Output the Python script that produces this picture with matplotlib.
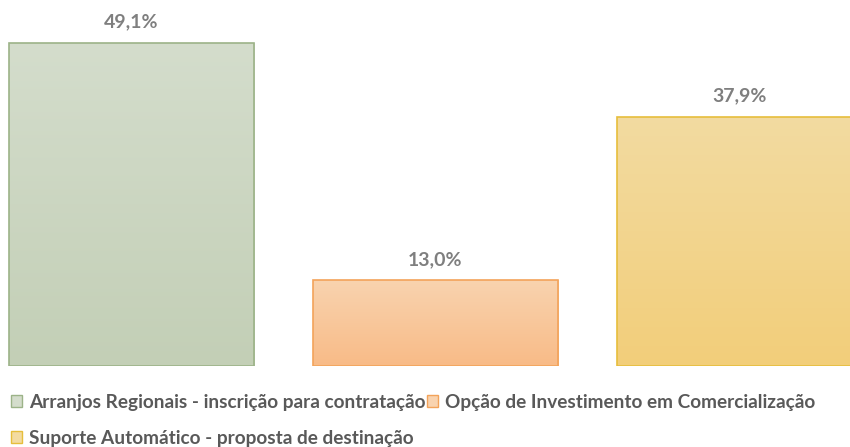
import matplotlib.pyplot as plt
import numpy as np
from matplotlib.colors import LinearSegmentedColormap
from matplotlib.patches import Patch

plt.rcParams['font.family'] = ['Lato', 'DejaVu Sans']

# data
categories = ["Arranjos Regionais - inscrição para contratação",
              "Opção de Investimento em Comercialização",
              "Suporte Automático - proposta de destinação"]
values = [49.1, 13.0, 37.9]
labels = ["49,1%", "13,0%", "37,9%"]

# top / bottom gradient colours and edge colours
tops = ["#D4DDCC", "#F9D3AF", "#F3DBA1"]
bottoms = ["#C3CFB6", "#F8BB87", "#F2CE7A"]
edges = ["#9CB388", "#F3A35A", "#E6BE3C"]

fig = plt.figure(figsize=(8.5, 4.47), dpi=100)
# axes placed so the baseline sits at 366 px from top and the third bar runs off the edge
ax = fig.add_axes([0, 81 / 447, 1, 366 / 447])
ax.axis('off')

x = np.arange(len(values))
bars = ax.bar(x, values, width=0.806, color='none', edgecolor=edges, linewidth=1.2, zorder=3)

for b, top, bot in zip(bars, tops, bottoms):
    cmap = LinearSegmentedColormap.from_list('g', [bot, top])
    grad = np.linspace(0, 1, 256).reshape(-1, 1)
    x0, y0 = b.get_x(), b.get_y()
    im = ax.imshow(grad, cmap=cmap, origin='lower', aspect='auto',
                   extent=(x0, x0 + b.get_width(), y0, y0 + b.get_height()), zorder=2)
    im.set_clip_path(b)

for xi, v, lab in zip(x, values, labels):
    ax.annotate(lab, (xi, v), xytext=(0, 9), textcoords='offset points',
                ha='center', va='bottom', fontsize=14, fontweight='bold', color='#7F7F7F')

# set limits after imshow
ax.set_xlim(-0.4326, 2.3635)
ax.set_ylim(0, 366 / 6.58)

# legend flows row by row like the original: reorder for column-major filling
order = [0, 2, 1]
handles = [Patch(facecolor=tops[i], edgecolor=edges[i], linewidth=1) for i in order]
fig.legend(handles, [categories[i] for i in order], ncol=2, loc='upper left',
           bbox_to_anchor=(11 / 850, 1 - 394 / 447), frameon=False, borderpad=0,
           handlelength=0.6, handleheight=0.6, handletextpad=0.35, columnspacing=0.05,
           labelspacing=1.0, borderaxespad=0,
           prop={'weight': 'bold', 'size': 13.7}, labelcolor='#595959')

fig.savefig('out.png', dpi=100)
